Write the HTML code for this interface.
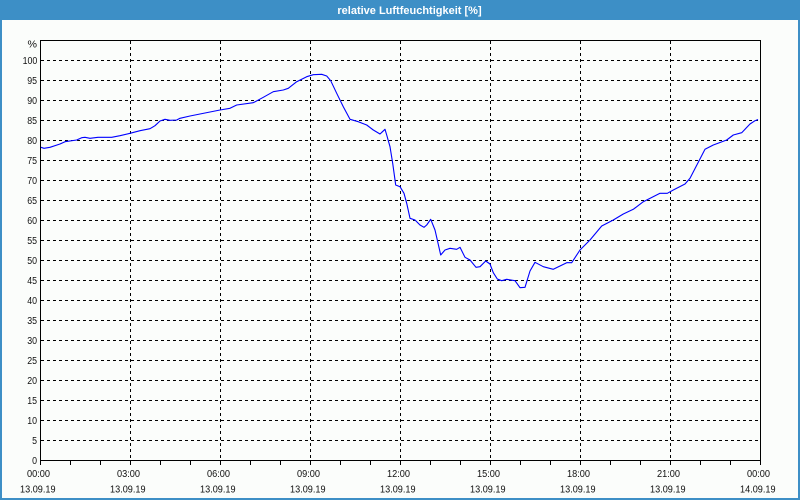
<!DOCTYPE html>
<html>
<head>
<meta charset="utf-8">
<style>
html,body{margin:0;padding:0;}
body{width:800px;height:500px;overflow:hidden;background:#fbfdfb;}
svg{display:block;}
text{font-family:"Liberation Sans",Arial,sans-serif;}
</style>
</head>
<body>
<svg width="800" height="500" viewBox="0 0 800 500" xmlns="http://www.w3.org/2000/svg">
  <rect x="0" y="0" width="800" height="500" fill="#fbfdfb"/>
  <!-- title bar -->
  <rect x="0" y="0" width="800" height="20" fill="#3d8fc6"/>
  <text x="409.5" y="14" font-size="11" font-weight="bold" fill="#ffffff" text-anchor="middle">relative Luftfeuchtigkeit [%]</text>
  <!-- window border -->
  <rect x="0" y="20" width="2" height="480" fill="#3d8fc6"/>
  <rect x="798" y="20" width="2" height="480" fill="#3d8fc6"/>
  <rect x="0" y="498" width="800" height="2" fill="#3d8fc6"/>

  <!-- horizontal grid -->
  <g stroke="#000" stroke-width="1" stroke-dasharray="3,3" shape-rendering="crispEdges">
    <line x1="41" y1="60.5" x2="760" y2="60.5"/>
    <line x1="41" y1="80.5" x2="760" y2="80.5"/>
    <line x1="41" y1="100.5" x2="760" y2="100.5"/>
    <line x1="41" y1="120.5" x2="760" y2="120.5"/>
    <line x1="41" y1="140.5" x2="760" y2="140.5"/>
    <line x1="41" y1="160.5" x2="760" y2="160.5"/>
    <line x1="41" y1="180.5" x2="760" y2="180.5"/>
    <line x1="41" y1="200.5" x2="760" y2="200.5"/>
    <line x1="41" y1="220.5" x2="760" y2="220.5"/>
    <line x1="41" y1="240.5" x2="760" y2="240.5"/>
    <line x1="41" y1="260.5" x2="760" y2="260.5"/>
    <line x1="41" y1="280.5" x2="760" y2="280.5"/>
    <line x1="41" y1="300.5" x2="760" y2="300.5"/>
    <line x1="41" y1="320.5" x2="760" y2="320.5"/>
    <line x1="41" y1="340.5" x2="760" y2="340.5"/>
    <line x1="41" y1="360.5" x2="760" y2="360.5"/>
    <line x1="41" y1="380.5" x2="760" y2="380.5"/>
    <line x1="41" y1="400.5" x2="760" y2="400.5"/>
    <line x1="41" y1="420.5" x2="760" y2="420.5"/>
    <line x1="41" y1="440.5" x2="760" y2="440.5"/>
  </g>
  <!-- vertical grid -->
  <g stroke="#000" stroke-width="1" stroke-dasharray="3,3" shape-rendering="crispEdges">
    <line x1="130.5" y1="41" x2="130.5" y2="460"/>
    <line x1="220.5" y1="41" x2="220.5" y2="460"/>
    <line x1="310.5" y1="41" x2="310.5" y2="460"/>
    <line x1="400.5" y1="41" x2="400.5" y2="460"/>
    <line x1="490.5" y1="41" x2="490.5" y2="460"/>
    <line x1="580.5" y1="41" x2="580.5" y2="460"/>
    <line x1="670.5" y1="41" x2="670.5" y2="460"/>
  </g>
  <!-- frame -->
  <rect x="40.5" y="40.5" width="720" height="420" fill="none" stroke="#000" stroke-width="1" shape-rendering="crispEdges"/>
  <!-- hour ticks -->
  <g stroke="#000" stroke-width="1" shape-rendering="crispEdges">
    <line x1="40.5" y1="460" x2="40.5" y2="465"/>
    <line x1="70.5" y1="460" x2="70.5" y2="465"/>
    <line x1="100.5" y1="460" x2="100.5" y2="465"/>
    <line x1="130.5" y1="460" x2="130.5" y2="465"/>
    <line x1="160.5" y1="460" x2="160.5" y2="465"/>
    <line x1="190.5" y1="460" x2="190.5" y2="465"/>
    <line x1="220.5" y1="460" x2="220.5" y2="465"/>
    <line x1="250.5" y1="460" x2="250.5" y2="465"/>
    <line x1="280.5" y1="460" x2="280.5" y2="465"/>
    <line x1="310.5" y1="460" x2="310.5" y2="465"/>
    <line x1="340.5" y1="460" x2="340.5" y2="465"/>
    <line x1="370.5" y1="460" x2="370.5" y2="465"/>
    <line x1="400.5" y1="460" x2="400.5" y2="465"/>
    <line x1="430.5" y1="460" x2="430.5" y2="465"/>
    <line x1="460.5" y1="460" x2="460.5" y2="465"/>
    <line x1="490.5" y1="460" x2="490.5" y2="465"/>
    <line x1="520.5" y1="460" x2="520.5" y2="465"/>
    <line x1="550.5" y1="460" x2="550.5" y2="465"/>
    <line x1="580.5" y1="460" x2="580.5" y2="465"/>
    <line x1="610.5" y1="460" x2="610.5" y2="465"/>
    <line x1="640.5" y1="460" x2="640.5" y2="465"/>
    <line x1="670.5" y1="460" x2="670.5" y2="465"/>
    <line x1="700.5" y1="460" x2="700.5" y2="465"/>
    <line x1="730.5" y1="460" x2="730.5" y2="465"/>
    <line x1="760.5" y1="460" x2="760.5" y2="465"/>
  </g>

  <!-- y labels -->
  <g font-size="10" fill="#111" text-anchor="end">
    <text x="37" y="47.5" textLength="9.5" lengthAdjust="spacingAndGlyphs">%</text>
    <text x="37.3" y="64" textLength="14.7" lengthAdjust="spacingAndGlyphs">100</text>
    <text x="37" y="84" textLength="9.8" lengthAdjust="spacingAndGlyphs">95</text>
    <text x="37" y="104" textLength="9.8" lengthAdjust="spacingAndGlyphs">90</text>
    <text x="37" y="124" textLength="9.8" lengthAdjust="spacingAndGlyphs">85</text>
    <text x="37" y="144" textLength="9.8" lengthAdjust="spacingAndGlyphs">80</text>
    <text x="37" y="164" textLength="9.8" lengthAdjust="spacingAndGlyphs">75</text>
    <text x="37" y="184" textLength="9.8" lengthAdjust="spacingAndGlyphs">70</text>
    <text x="37" y="204" textLength="9.8" lengthAdjust="spacingAndGlyphs">65</text>
    <text x="37" y="224" textLength="9.8" lengthAdjust="spacingAndGlyphs">60</text>
    <text x="37" y="244" textLength="9.8" lengthAdjust="spacingAndGlyphs">55</text>
    <text x="37" y="264" textLength="9.8" lengthAdjust="spacingAndGlyphs">50</text>
    <text x="37" y="284" textLength="9.8" lengthAdjust="spacingAndGlyphs">45</text>
    <text x="37" y="304" textLength="9.8" lengthAdjust="spacingAndGlyphs">40</text>
    <text x="37" y="324" textLength="9.8" lengthAdjust="spacingAndGlyphs">35</text>
    <text x="37" y="344" textLength="9.8" lengthAdjust="spacingAndGlyphs">30</text>
    <text x="37" y="364" textLength="9.8" lengthAdjust="spacingAndGlyphs">25</text>
    <text x="37" y="384" textLength="9.8" lengthAdjust="spacingAndGlyphs">20</text>
    <text x="37" y="404" textLength="9.8" lengthAdjust="spacingAndGlyphs">15</text>
    <text x="37" y="424" textLength="9.8" lengthAdjust="spacingAndGlyphs">10</text>
    <text x="37" y="444" textLength="4.9" lengthAdjust="spacingAndGlyphs">5</text>
    <text x="37" y="464" textLength="4.9" lengthAdjust="spacingAndGlyphs">0</text>
  </g>

  <!-- x labels -->
  <g font-size="10" fill="#111" text-anchor="middle">
    <text x="38.5" y="477" textLength="23" lengthAdjust="spacingAndGlyphs">00:00</text>
    <text x="128.5" y="477" textLength="23" lengthAdjust="spacingAndGlyphs">03:00</text>
    <text x="218.5" y="477" textLength="23" lengthAdjust="spacingAndGlyphs">06:00</text>
    <text x="308.5" y="477" textLength="23" lengthAdjust="spacingAndGlyphs">09:00</text>
    <text x="398.5" y="477" textLength="23" lengthAdjust="spacingAndGlyphs">12:00</text>
    <text x="488.5" y="477" textLength="23" lengthAdjust="spacingAndGlyphs">15:00</text>
    <text x="578.5" y="477" textLength="23" lengthAdjust="spacingAndGlyphs">18:00</text>
    <text x="668.5" y="477" textLength="23" lengthAdjust="spacingAndGlyphs">21:00</text>
    <text x="758.5" y="477" textLength="23" lengthAdjust="spacingAndGlyphs">00:00</text>

    <text x="37.8" y="492.5" textLength="35.5" lengthAdjust="spacingAndGlyphs">13.09.19</text>
    <text x="127.8" y="492.5" textLength="35.5" lengthAdjust="spacingAndGlyphs">13.09.19</text>
    <text x="217.8" y="492.5" textLength="35.5" lengthAdjust="spacingAndGlyphs">13.09.19</text>
    <text x="307.8" y="492.5" textLength="35.5" lengthAdjust="spacingAndGlyphs">13.09.19</text>
    <text x="397.8" y="492.5" textLength="35.5" lengthAdjust="spacingAndGlyphs">13.09.19</text>
    <text x="487.8" y="492.5" textLength="35.5" lengthAdjust="spacingAndGlyphs">13.09.19</text>
    <text x="577.8" y="492.5" textLength="35.5" lengthAdjust="spacingAndGlyphs">13.09.19</text>
    <text x="667.8" y="492.5" textLength="35.5" lengthAdjust="spacingAndGlyphs">13.09.19</text>
    <text x="757.8" y="492.5" textLength="35.5" lengthAdjust="spacingAndGlyphs">14.09.19</text>
  </g>

  <!-- data line -->
  <polyline fill="none" stroke="#0000ff" stroke-width="1.1" stroke-linejoin="round"
    points="41,147.3 44,148.3 50,147.3 60,144 65,141.7 76.7,140 81.7,137.7 85,137.3 90,138.3 98,137.3 111.7,137.3 120,135.7 130,133.3 140,130.7 150,128.7 155,125.7 160,121 165,119.3 170,120.3 176.7,120 180,118.3 190,116 200,114 220,110 230,108.3 236.7,105 253.3,102.7 263.3,97.3 273.3,91.7 283.3,90 288.3,88.3 296.7,81.7 306.7,76.7 313.3,74.7 321.7,74.3 326.7,76 330.7,80.7 336.7,93.3 343.3,106.7 350,119.3 358.3,121.7 366.7,125 373.3,130 380,134 385,129.3 386.7,135 390,146.7 392.7,163.3 395.7,185 400,186.7 404,193.3 406.7,203.3 410,218.3 415,220 420,225 424,227.3 426.7,225 430.7,219.3 435,230 437.3,240 440.7,255 445,250 450,248.3 456.7,249.3 460,247.3 465,257.3 470,260 476,267.3 480,266.7 485.7,261 490,264 493.3,272.7 497.3,279 501.7,280.7 506.7,279.3 515,280.7 520,287.7 525,287.3 530,271 535,262.3 543.3,266.7 553.3,269.3 560,266 566.7,262.7 571.7,262.7 580,250 590,240 601.7,226 613.3,220 623.3,214 633.3,209.3 643.3,201.7 660,193.3 667.3,193.3 673.3,190 685,184 690,178.3 705,149.3 713.3,145 726.7,140 733.3,135 741.7,132.7 750,124 755,120.7 758,119.5"/>
</svg>
</body>
</html>
